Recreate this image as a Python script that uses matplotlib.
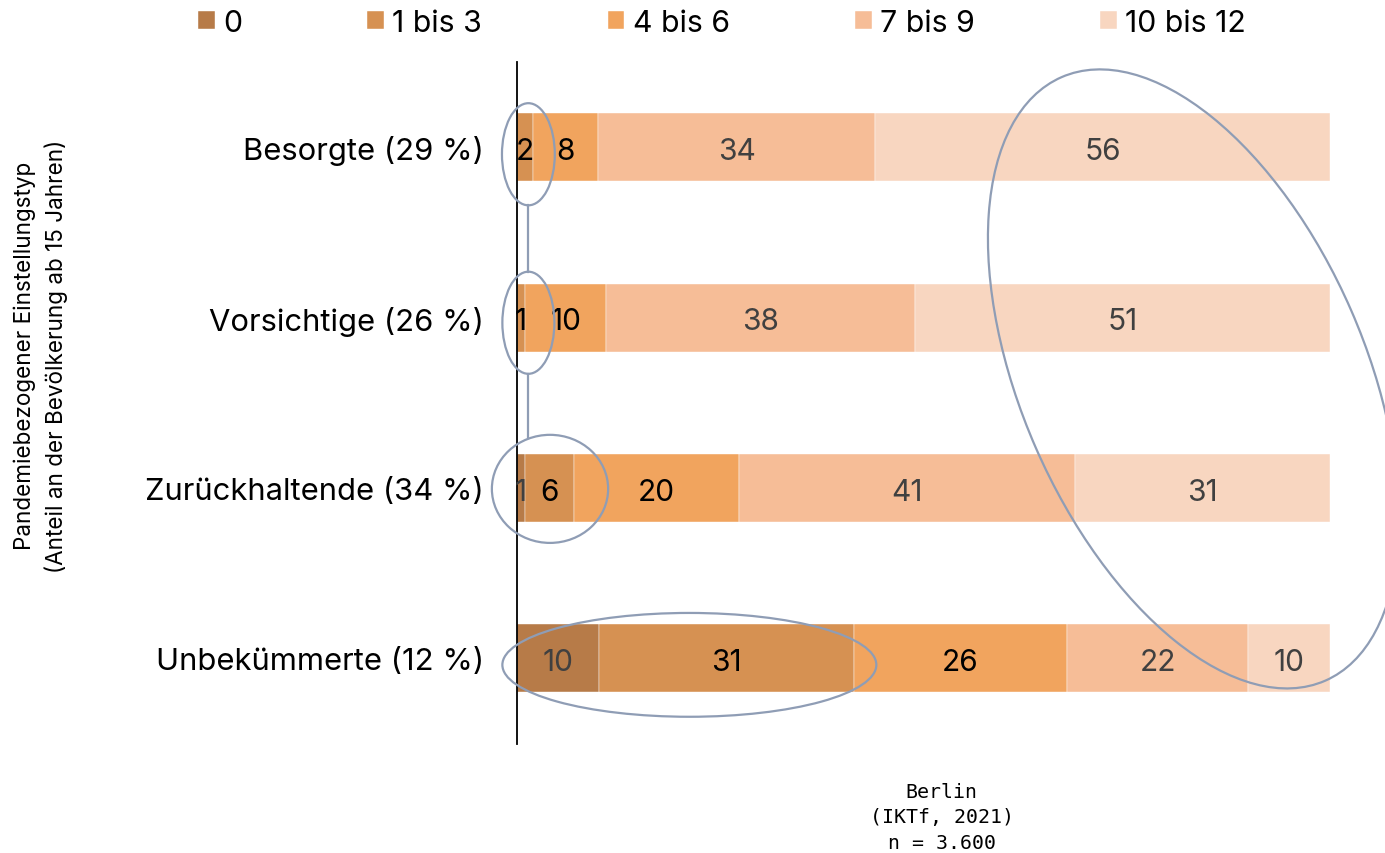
import matplotlib
matplotlib.use("Agg")
import matplotlib.pyplot as plt
from matplotlib.patches import Ellipse
from matplotlib.transforms import IdentityTransform
import numpy as np

categories = ["Besorgte (29 %)", "Vorsichtige (26 %)", "Zurückhaltende (34 %)", "Unbekümmerte (12 %)"]
series_names = ["0", "1 bis 3", "4 bis 6", "7 bis 9", "10 bis 12"]
v_0 = [0, 0, 1, 10]
v_1_3 = [2, 1, 6, 31]
v_4_6 = [8, 10, 20, 26]
v_7_9 = [34, 38, 41, 22]
v_10_12 = [56, 51, 31, 10]

colors = ["#b77b48", "#d69152", "#f1a45e", "#f6bd97", "#f8d6c0"]
label_colors = ["#404040", "#000000", "#000000", "#404040", "#404040"]
ell_color = "#8f9db5"

plt.rcParams["font.family"] = ["Inter", "DejaVu Sans"]

W, H = 1385, 854
fig = plt.figure(figsize=(W / 100, H / 100), dpi=100)
ax = fig.add_axes([517 / W, 1 - 745 / H, (1330 - 517) / W, (745 - 63) / H])

series = [v_0, v_1_3, v_4_6, v_7_9, v_10_12]
data = np.array(series, dtype=float)
totals = data.sum(axis=0)
norm = data / totals * 100
y = np.arange(len(categories))
left = np.zeros(len(categories))
for i, name in enumerate(series_names):
    ax.barh(y, norm[i], left=left, height=0.4, color=colors[i],
            edgecolor="white", linewidth=0.3, label=name)
    for j in range(len(categories)):
        if data[i, j] > 0:
            ax.text(left[j] + norm[i, j] / 2, y[j] + 0.022, f"{int(data[i, j])}",
                    ha="center", va="center", fontsize=21.5,
                    color=label_colors[i])
    left += norm[i]

ax.set_xlim(0, 100)
ax.set_ylim(3.505, -0.502)
ax.set_yticks(y)
ax.set_yticklabels(categories, fontsize=22.3)
ax.tick_params(axis="y", length=0, pad=24)
ax.set_xticks([])
for s in ["top", "right", "bottom"]:
    ax.spines[s].set_visible(False)
ax.spines["left"].set_linewidth(1.3)
ax.spines["left"].set_color("black")

# annotation ellipses
ekw = dict(fill=False, edgecolor=ell_color, linewidth=1.6, clip_on=False, zorder=5)
ax.add_patch(Ellipse((1.4, 0.04), 6.5, 0.6, **ekw))
ax.add_patch(Ellipse((1.4, 1.03), 6.4, 0.6, **ekw))
ax.add_patch(Ellipse((4.06, 2.006), 14.3, 0.635, **ekw))
ax.add_patch(Ellipse((21.2, 3.04), 46.0, 0.61, **ekw))
ax.plot([1.4, 1.4], [0.34, 0.73], color=ell_color, lw=1.6, clip_on=False, zorder=5)
ax.plot([1.4, 1.4], [1.33, 1.71], color=ell_color, lw=1.6, clip_on=False, zorder=5)
cx, cy = ax.transData.transform((83.2, 1.36))
big = Ellipse((cx, cy), 658.6, 344.0, angle=-66.4, fill=False, edgecolor=ell_color,
              linewidth=1.6, transform=IdentityTransform(), clip_on=False, zorder=5)
fig.add_artist(big)

# legend
handles, labels = ax.get_legend_handles_labels()
fig.legend(handles, labels, loc="center", bbox_to_anchor=(722 / W, 1 - 24 / H),
           ncol=5, frameon=False, fontsize=21.8, handlelength=0.55, handleheight=0.55,
           handletextpad=0.27, columnspacing=4.15, borderpad=0, borderaxespad=0)

fig.text(41 / W, 1 - 356 / H,
         "Pandemiebezogener Einstellungstyp\n(Anteil an der Bevölkerung ab 15 Jahren)",
         rotation=90, ha="center", va="center", fontsize=16.2, linespacing=1.45,
         multialignment="center")

fig.text(941.5 / W, 1 - 818 / H, "Berlin\n(IKTf, 2021)\nn = 3.600",
         ha="center", va="center", fontsize=14.3, family="DejaVu Sans Mono",
         linespacing=1.42, multialignment="center")

fig.savefig("out.png", dpi=100, facecolor="white")
